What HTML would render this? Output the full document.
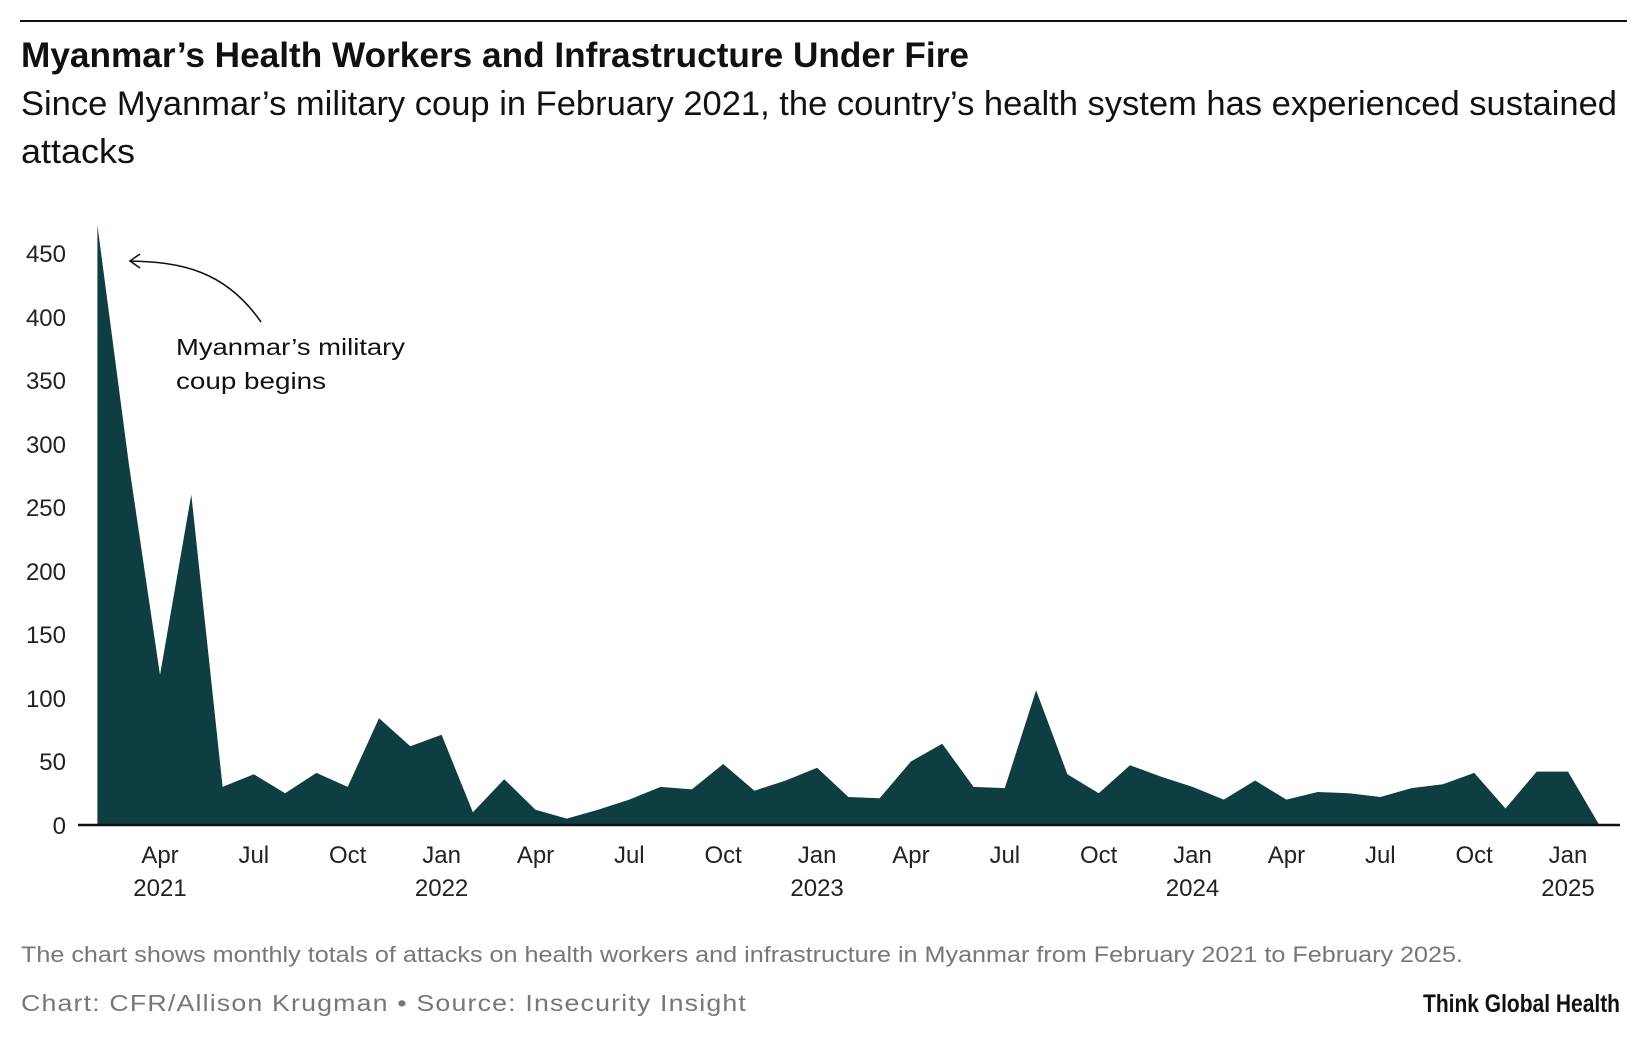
<!DOCTYPE html>
<html><head><meta charset="utf-8"><style>
html,body{margin:0;padding:0;background:#fff;}
svg{display:block;font-family:"Liberation Sans",sans-serif;}
</style></head><body>
<svg width="1640" height="1046" viewBox="0 0 1640 1046" xmlns="http://www.w3.org/2000/svg">
<line x1="20" y1="21" x2="1627" y2="21" stroke="#111" stroke-width="2"/>
<text x="21" y="67" font-size="35" font-weight="bold" fill="#111" textLength="948" lengthAdjust="spacingAndGlyphs">Myanmar’s Health Workers and Infrastructure Under Fire</text>
<text x="21" y="115" font-size="34" fill="#111" textLength="1596" lengthAdjust="spacingAndGlyphs">Since Myanmar’s military coup in February 2021, the country’s health system has experienced sustained</text>
<text x="21" y="163" font-size="34" fill="#111" textLength="114" lengthAdjust="spacingAndGlyphs">attacks</text>
<g font-size="24" fill="#222" text-anchor="end">
<text x="66" y="834">0</text>
<text x="66" y="770">50</text>
<text x="66" y="707">100</text>
<text x="66" y="643">150</text>
<text x="66" y="580">200</text>
<text x="66" y="516">250</text>
<text x="66" y="453">300</text>
<text x="66" y="389">350</text>
<text x="66" y="326">400</text>
<text x="66" y="262">450</text>
</g>
<polygon id="area" fill="#0f3e42" points=""/>
<line x1="78" y1="825" x2="1620" y2="825" stroke="#111" stroke-width="2.5"/>
<g font-size="24" fill="#222" text-anchor="middle" id="xl"></g>
<path d="M261 322 C225 270 180 262 130 261" fill="none" stroke="#111" stroke-width="1.6"/>
<path d="M140 254 L130 261 L140 268" fill="none" stroke="#111" stroke-width="1.6"/>
<text x="176" y="355" font-size="23" fill="#111" textLength="229" lengthAdjust="spacingAndGlyphs">Myanmar’s military</text>
<text x="176" y="389" font-size="23" fill="#111" textLength="150" lengthAdjust="spacingAndGlyphs">coup begins</text>
<text x="21" y="962" font-size="22" fill="#777" textLength="1442" lengthAdjust="spacingAndGlyphs">The chart shows monthly totals of attacks on health workers and infrastructure in Myanmar from February 2021 to February 2025.</text>
<text x="21" y="1011" font-size="23" fill="#777" textLength="726" lengthAdjust="spacingAndGlyphs" letter-spacing="1">Chart: CFR/Allison Krugman • Source: Insecurity Insight</text>
<text x="1620" y="1012" font-size="25" font-weight="bold" fill="#111" text-anchor="end" textLength="197" lengthAdjust="spacingAndGlyphs">Think Global Health</text>
</svg>
<script>
var d=[472,285,118,260,30,40,25,41,30,84,62,71,10,36,12,5,12,20,30,28,48,27,35,45,22,21,50,64,30,29,106,40,25,47,38,30,20,35,20,26,25,22,29,32,41,13,42,42,0];
var x0=97.4,st=31.29,y0=825,k=1.271;
var p=[x0+","+y0];
d.forEach(function(v,i){p.push((x0+i*st).toFixed(1)+","+(y0-v*k).toFixed(1));});
p.push((x0+48*st).toFixed(1)+","+y0);
document.getElementById('area').setAttribute('points',p.join(' '));
var m=["Apr","Jul","Oct","Jan"],g=document.getElementById('xl'),s="";
for(var i=0;i<16;i++){var x=x0+(2+3*i)*st;var lab=m[i%4];
s+='<text x="'+x.toFixed(1)+'" y="863">'+lab+'</text>';
var yr=null;if(i==0)yr=2021;if(lab=="Jan")yr=2022+Math.floor((i-3)/4);
if(yr)s+='<text x="'+x.toFixed(1)+'" y="896">'+yr+'</text>';}
g.innerHTML=s;
</script>
</body></html>
